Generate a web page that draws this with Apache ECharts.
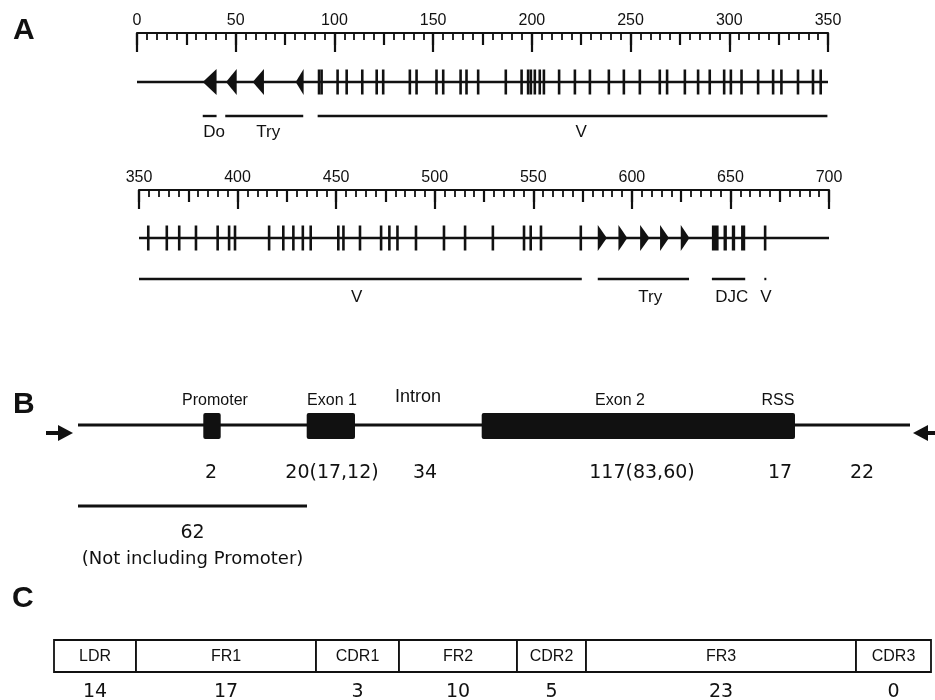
<!DOCTYPE html>
<html><head><meta charset="utf-8">
<script src="https://cdn.jsdelivr.net/npm/echarts@6/dist/echarts.min.js"></script>
<style>html,body{margin:0;padding:0;background:#fff}#c{width:935px;height:700px}</style>
</head><body><div id="c"></div>
<script>
// ---------------- DATA ----------------
// Panel A, top row (kb scale 0-350)
const topRange = [0, 350];
const topTickStep = 50;
const topVGenes = [92.2, 93.5, 101.6, 106.2, 114.1, 121.4, 124.7, 138.2, 141.6, 151.7, 155.1, 163.9, 166.9, 172.8,
  186.8, 194.8, 198.1, 199.5, 201.5, 204, 206.1, 213.8, 221.8, 229.4, 239, 246.6, 254.7, 264.8, 268.5, 277.5,
  284.2, 290.1, 297.4, 300.8, 306.2, 314.6, 322.2, 326.4, 334.8, 342.4, 346.3];
const topInvertedGenes = [[33.3, 40.3], [45.1, 50.5], [58.6, 64.3], [80.4, 84.4]]; // inverted (left-pointing)
const topRegionNames = ['Do', 'Try', 'V'];
const topRegionStart = [33.3, 44.7, 91.5];
const topRegionEnd = [40.3, 84.2, 349.7];
const topRegionLabelAt = [39, 66.5, 225];

// Panel A, bottom row (kb scale 350-700)
const bottomRange = [350, 700];
const bottomTickStep = 50;
const bottomVGenes = [354.7, 364.1, 370.4, 378.9, 389.9, 395.7, 398.7, 416, 423.2, 428.3, 433.1, 437.1, 451.1, 453.7,
  462.1, 472.8, 477, 481.1, 490.5, 504.7, 515.4, 529.5, 545.3, 548.7, 553.9, 574.1, 667.6];
const bottomTryGenes = [[582.7, 587.3], [593.2, 597.7], [604.2, 608.9], [614.3, 618.8], [624.8, 629.2]];
const bottomDJC = [[640.6, 644], [646.5, 648.2], [650.7, 652.4], [655.4, 657.5]];
const bottomRegionNames = ['V', 'Try', 'DJC', 'V'];
const bottomRegionStart = [350, 582.7, 640.6, 667.2];
const bottomRegionEnd = [574.6, 629, 657.5, 668];
const bottomRegionLabelAt = [460.4, 609.3, 650.7, 668];

// Panel B (schematic units along the locus)
const bLocus = [0, 832];
const bFeatureNames = ['Promoter', 'Exon 1', 'Exon 2'];
const bFeatureStart = [125.3, 228.7, 403.7];
const bFeatureEnd = [142.7, 277, 717];
const bLabels = ['Promoter', 'Exon 1', 'Intron', 'Exon 2', 'RSS'];
const bLabelAt = [137, 254, 340, 542, 700];
const bCounts = ['2', '20(17,12)', '34', '117(83,60)', '17', '22'];
const bCountAt = [133, 254, 347, 564, 702, 784];
const bPrimerAt = [-5, 835];
const bPrimerDir = ['right', 'left'];
const bSpan = [0, 229];
const bSpanCount = '62';
const bSpanNote = '(Not including Promoter)';

// Panel C
const cRegions = ['LDR', 'FR1', 'CDR1', 'FR2', 'CDR2', 'FR3', 'CDR3'];
const cWidths = [82, 180, 83, 118, 69, 270, 75];
const cCounts = [14, 17, 3, 10, 5, 23, 0];

// ---------------- CHART ----------------
const BLACK = '#111';
const SANS = '"Liberation Sans", Arial, sans-serif';
const WIDE = '"DejaVu Sans", Verdana, sans-serif';

function lineEl(x1, y1, x2, y2, w) {
  return {type: 'line', shape: {x1: x1, y1: y1, x2: x2, y2: y2}, style: {stroke: BLACK, lineWidth: w}};
}
function textEl(x, y, text, font) {
  return {type: 'text', x: x, y: y,
    style: {text: text, font: font, fill: BLACK, align: 'center', verticalAlign: 'middle',
      textAlign: 'center', textVerticalAlign: 'middle'}};
}

const cStart = [];
cWidths.reduce((acc, w) => { cStart.push(acc); return acc + w; }, 0);
const cTotal = cWidths.reduce((a, b) => a + b, 0);

const grids = [
  {left: 137, width: 691, top: 33, height: 100},   // 0 top row
  {left: 137, width: 691, top: 33, height: 100},   // 1 top row medium ticks
  {left: 139, width: 690, top: 190, height: 120},  // 2 bottom row
  {left: 139, width: 690, top: 190, height: 120},  // 3 bottom row medium ticks
  {left: 78, width: 832, top: 380, height: 200},   // 4 panel B
  {left: 54, width: cTotal, top: 630, height: 70}  // 5 panel C
];

function rulerAxis(gi, range, step) {
  return {
    gridIndex: gi, type: 'value', min: range[0], max: range[1], interval: step, position: 'top',
    axisLine: {show: true, lineStyle: {color: BLACK, width: 2.2}},
    axisTick: {show: true, inside: true, length: 19, lineStyle: {color: BLACK, width: 2.2}},
    minorTick: {show: true, splitNumber: 10, length: 7, lineStyle: {color: BLACK, width: 1.8}},
    axisLabel: {show: true, margin: 4, fontSize: 16, color: BLACK, fontFamily: SANS,
      showMinLabel: true, showMaxLabel: true},
    splitLine: {show: false}, minorSplitLine: {show: false}
  };
}
function mediumAxis(gi, range, step) {
  return {
    gridIndex: gi, type: 'value', min: range[0], max: range[1], interval: step / 2, position: 'top',
    axisLine: {show: false}, axisTick: {show: true, inside: true, length: 12, lineStyle: {color: BLACK, width: 2.2}},
    axisLabel: {show: false}, splitLine: {show: false}
  };
}
function hiddenAxis(gi, min, max) {
  return {gridIndex: gi, type: 'value', min: min, max: max, show: false, splitLine: {show: false}};
}

const xAxes = [
  rulerAxis(0, topRange, topTickStep),
  mediumAxis(1, topRange, topTickStep),
  rulerAxis(2, bottomRange, bottomTickStep),
  mediumAxis(3, bottomRange, bottomTickStep),
  hiddenAxis(4, bLocus[0], bLocus[1]),
  hiddenAxis(5, 0, cTotal)
];
const yAxes = grids.map((g, i) => ({gridIndex: i, type: 'value', min: 0, max: g.height, inverse: true, show: false, splitLine: {show: false}}));

function cs(axisIdx, data, renderItem) {
  return {type: 'custom', xAxisIndex: axisIdx, yAxisIndex: axisIdx, data: data, renderItem: renderItem,
    silent: true, animation: false, clip: false};
}

function rowSeries(ax, range, yLine, yBar, yLabel, vGenes, regS, regE, regNames, regAt) {
  return [
    cs(ax, [[range[0], range[1]]], function (p, api) {
      const a = api.coord([api.value(0), yLine]), b = api.coord([api.value(1), yLine]);
      return lineEl(a[0], a[1], b[0], b[1], 2.4);
    }),
    cs(ax, vGenes.map(v => [v]), function (p, api) {
      const a = api.coord([api.value(0), yLine]);
      return lineEl(a[0], a[1] - 12.5, a[0], a[1] + 12.5, 2.6);
    }),
    cs(ax, regS.map((s, i) => [s, regE[i]]), function (p, api) {
      const a = api.coord([api.value(0), yBar]), b = api.coord([api.value(1), yBar]);
      return lineEl(a[0], a[1], Math.max(b[0], a[0] + 2), b[1], 2.4);
    }),
    cs(ax, regAt.map(v => [v]), function (p, api) {
      const a = api.coord([api.value(0), yLabel]);
      return textEl(a[0], a[1], regNames[p.dataIndex], '17px ' + SANS);
    })
  ];
}

function triSeries(ax, data, yLine, dir) {
  return cs(ax, data, function (p, api) {
    const a = api.coord([api.value(0), yLine]), b = api.coord([api.value(1), yLine]);
    const h = 13;
    const pts = dir === 'left'
      ? [[a[0], a[1]], [b[0], a[1] - h], [b[0], a[1] + h]]
      : [[b[0], a[1]], [a[0], a[1] - h], [a[0], a[1] + h]];
    return {type: 'polygon', shape: {points: pts}, style: {fill: BLACK}};
  });
}

const series = [].concat(
  rowSeries(0, topRange, 49, 83, 99, topVGenes, topRegionStart, topRegionEnd, topRegionNames, topRegionLabelAt),
  [triSeries(0, topInvertedGenes, 49, 'left')],
  rowSeries(2, bottomRange, 48, 89, 107, bottomVGenes, bottomRegionStart, bottomRegionEnd, bottomRegionNames, bottomRegionLabelAt),
  [triSeries(2, bottomTryGenes, 48, 'right'),
   cs(2, bottomDJC, function (p, api) {
     const a = api.coord([api.value(0), 48]), b = api.coord([api.value(1), 48]);
     return {type: 'rect', shape: {x: a[0], y: a[1] - 12.5, width: b[0] - a[0], height: 25}, style: {fill: BLACK}};
   })],
  // Panel B
  [
    cs(4, [bLocus], function (p, api) {
      const a = api.coord([api.value(0), 45]), b = api.coord([api.value(1), 45]);
      return lineEl(a[0], a[1], b[0], b[1], 3);
    }),
    cs(4, bFeatureStart.map((s, i) => [s, bFeatureEnd[i]]), function (p, api) {
      const a = api.coord([api.value(0), 33]), b = api.coord([api.value(1), 59]);
      return {type: 'rect', shape: {x: a[0], y: a[1], width: b[0] - a[0], height: b[1] - a[1], r: 2}, style: {fill: BLACK}};
    }),
    cs(4, bLabelAt.map(v => [v]), function (p, api) {
      const t = bLabels[p.dataIndex];
      const a = api.coord([api.value(0), t === 'Intron' ? 17 : 21]);
      return textEl(a[0], a[1], t, (t === 'Intron' ? '18px ' : '16px ') + SANS);
    }),
    cs(4, bCountAt.map(v => [v]), function (p, api) {
      const a = api.coord([api.value(0), 93]);
      return textEl(a[0], a[1], bCounts[p.dataIndex], '19px ' + WIDE);
    }),
    cs(4, bPrimerAt.map(v => [v]), function (p, api) {
      const a = api.coord([api.value(0), 53]);
      const x = a[0], y = a[1];
      const pts = bPrimerDir[p.dataIndex] === 'right'
        ? [[x - 27, y - 2], [x - 15, y - 2], [x - 15, y - 8], [x, y], [x - 15, y + 8], [x - 15, y + 2], [x - 27, y + 2]]
        : [[x + 27, y - 2], [x + 15, y - 2], [x + 15, y - 8], [x, y], [x + 15, y + 8], [x + 15, y + 2], [x + 27, y + 2]];
      return {type: 'polygon', shape: {points: pts}, style: {fill: BLACK}};
    }),
    cs(4, [bSpan], function (p, api) {
      const a = api.coord([api.value(0), 126]), b = api.coord([api.value(1), 126]);
      const mid = (a[0] + b[0]) / 2;
      return {type: 'group', children: [
        lineEl(a[0], a[1], b[0], b[1], 3),
        textEl(mid, a[1] + 27, bSpanCount, '19px ' + WIDE),
        textEl(mid, a[1] + 53, bSpanNote, '18px ' + WIDE)
      ]};
    })
  ],
  // Panel C
  [
    cs(5, cStart.map((s, i) => [s, s + cWidths[i]]), function (p, api) {
      const a = api.coord([api.value(0), 10]), b = api.coord([api.value(1), 42]);
      const mid = (a[0] + b[0]) / 2;
      return {type: 'group', children: [
        {type: 'rect', shape: {x: a[0], y: a[1], width: b[0] - a[0], height: b[1] - a[1]},
          style: {fill: '#fff', stroke: BLACK, lineWidth: 1.8}},
        textEl(mid, (a[1] + b[1]) / 2 + 1, cRegions[p.dataIndex], '16px ' + SANS),
        textEl(mid, b[1] + 20, String(cCounts[p.dataIndex]), '19px ' + WIDE)
      ]};
    })
  ]
);

const letters = [['A', 24, 31], ['B', 24, 405], ['C', 23, 599]];
const option = {
  backgroundColor: '#fff',
  animation: false,
  grid: grids,
  xAxis: xAxes,
  yAxis: yAxes,
  series: series,
  graphic: letters.map(l => ({type: 'text', left: l[1] - 11, top: l[2] - 15,
    style: {text: l[0], font: 'bold 30px ' + SANS, fill: BLACK}}))
};
const chart = echarts.init(document.getElementById('c'));
chart.setOption(option);
</script></body></html>
